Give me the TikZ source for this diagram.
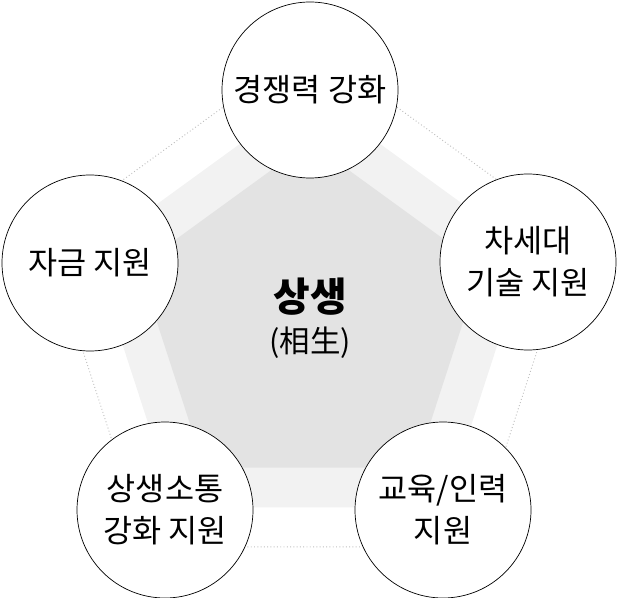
\documentclass[tikz,border=0pt]{standalone}
\usepackage{fontspec}
\setmainfont{Noto Sans CJK KR}
\usetikzlibrary{shapes.geometric}
\tikzset{
  topic/.style={circle, draw=black, line width=0.6pt, fill=white, minimum size=176*0.03cm,
    align=center, font=\fontsize{27}{36}\selectfont},
  penta/.style={regular polygon, regular polygon sides=5, draw=none, inner sep=0pt}
}
\begin{document}
\begin{tikzpicture}[x=0.03cm,y=-0.03cm]
  \useasboundingbox (0,0) rectangle (620,598);
  % Pentagon layers
  \node[penta, minimum size=2*278*0.03cm, draw=gray!50, dotted, line width=0.8pt] (outer) at (310,322) {};
  \node[penta, minimum size=2*229*0.03cm, fill=black!5] (band) at (310,322) {};
  \node[penta, minimum size=2*180*0.03cm, fill=black!11] (inner) at (310,322) {};

  % Topics
  \node[topic] (compete) at (310,90) {경쟁력 강화};
  \node[topic] (fund) at (90,263) {자금 지원};
  \node[topic] (tech) at (528,262) {차세대\\기술 지원};
  \node[topic] (comm) at (165,510) {상생소통\\강화 지원};
  \node[topic] (edu) at (443,510) {교육/인력\\지원};

  % Centre label
  \node[font=\fontsize{34}{40}\selectfont\bfseries] (win) at (310,297) {상생};
  \node[font=\fontsize{26}{30}\selectfont] (hanja) at (310,343) {(相生)};
\end{tikzpicture}
\end{document}
